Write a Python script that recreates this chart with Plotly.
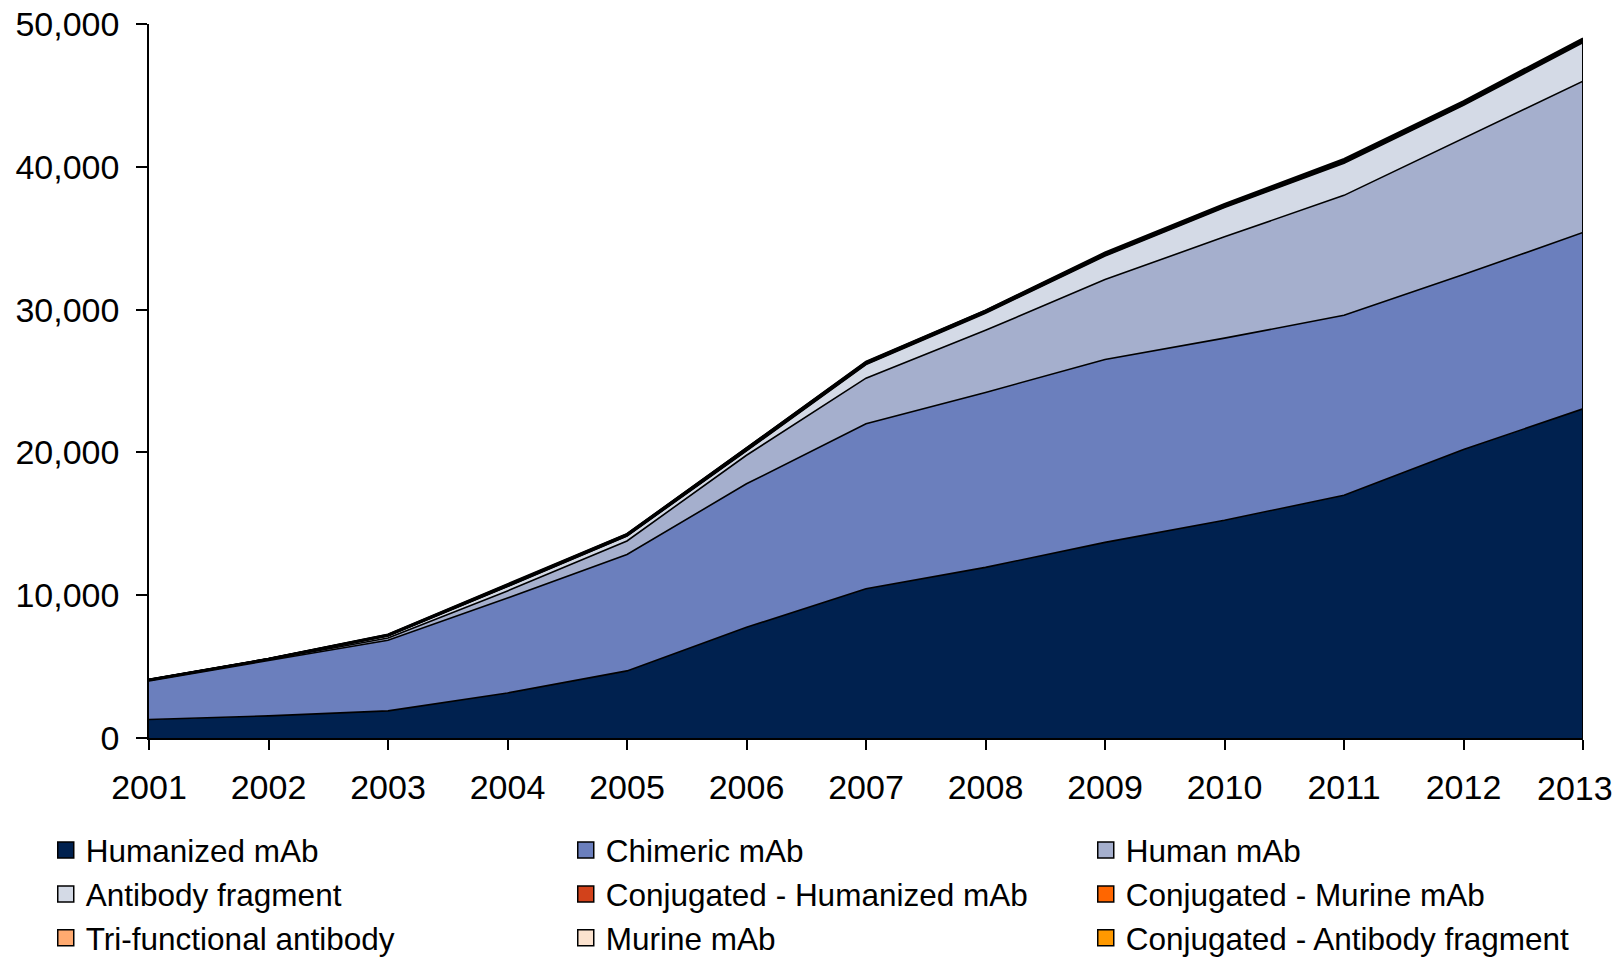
import plotly.graph_objects as go

years = list(range(2001, 2014))

humanized = [1300, 1550, 1900, 3150, 4700, 7750, 10450, 11950, 13700, 15250, 17000, 20200, 23050]
chimeric = [2700, 3900, 4950, 6650, 8150, 10050, 11550, 12250, 12800, 12750, 12600, 12250, 12350]
human = [30, 30, 150, 500, 950, 2000, 3200, 4350, 5600, 7100, 8400, 9550, 10600]
fragment = [20, 20, 150, 300, 350, 300, 950, 1200, 1650, 2050, 2250, 2300, 2700]
conj_humanized = [10, 10, 20, 30, 30, 50, 50, 50, 60, 60, 80, 80, 80]
conj_murine = [20, 20, 30, 40, 40, 40, 40, 40, 40, 40, 40, 40, 40]
trifunctional = [0, 0, 0, 0, 0, 0, 0, 10, 10, 10, 10, 10, 10]
murine = [20, 20, 40, 60, 60, 80, 80, 70, 80, 80, 90, 90, 90]
conj_fragment = [0, 0, 10, 20, 20, 30, 30, 30, 60, 60, 80, 80, 80]

series = [
    ("Humanized mAb", humanized, "#00214F"),
    ("Chimeric mAb", chimeric, "#6B7FBD"),
    ("Human mAb", human, "#A5AFCD"),
    ("Antibody fragment", fragment, "#D4DAE6"),
    ("Conjugated - Humanized mAb", conj_humanized, "#D2421B"),
    ("Conjugated - Murine mAb", conj_murine, "#FF6600"),
    ("Tri-functional antibody", trifunctional, "#FFAA70"),
    ("Murine mAb", murine, "#FCE3CF"),
    ("Conjugated - Antibody fragment", conj_fragment, "#FF9900"),
]

y_ticks = [0, 10000, 20000, 30000, 40000, 50000]
# the last year is labelled separately, right-aligned so it stays on the page
x_ticktext = [str(y) for y in years[:-1]] + [""]

fig = go.Figure()

for i, (name, vals, color) in enumerate(series):
    fig.add_trace(go.Scatter(
        x=years, y=vals, name=name, stackgroup="one", mode="lines",
        line=dict(color="black", width=1.6 if i < 4 else 2.0), fillcolor=color,
        showlegend=False, hoverinfo="x+y+name",
    ))

# square swatches for the legend
for name, vals, color in series:
    fig.add_trace(go.Scatter(
        x=[None], y=[None], name=name, mode="markers",
        marker=dict(symbol="square", size=16, color=color,
                    line=dict(color="black", width=1.5)),
    ))

# closing edge of the stacked area at the last year
totals = [sum(s[1][i] for s in series) for i in range(len(years))]
fig.add_shape(type="line", x0=years[-1], x1=years[-1], y0=0, y1=totals[-1],
              xref="x", yref="y", line=dict(color="black", width=2))

font_family = "Liberation Sans, Arial, sans-serif"

fig.add_annotation(
    x=years[-1], xref="x", y=-0.070, yref="paper",
    text=str(years[-1]), showarrow=False, xanchor="right", yanchor="middle",
    xshift=32, font=dict(size=34, family=font_family, color="black"),
)

fig.update_layout(
    width=1616, height=959,
    margin=dict(l=149, r=33, t=24, b=221, autoexpand=False),
    paper_bgcolor="white", plot_bgcolor="white",
    font=dict(family=font_family, color="black"),
    showlegend=True,
    legend=dict(
        orientation="h", x=-0.072, xanchor="left", y=-0.119, yanchor="top",
        entrywidth=475, entrywidthmode="pixels", tracegroupgap=0,
        traceorder="normal",
        font=dict(size=31.5, family=font_family, color="black"),
        itemsizing="trace", bgcolor="rgba(0,0,0,0)",
    ),
    xaxis=dict(
        range=[years[0], years[-1]], tickmode="array", tickvals=years,
        ticktext=x_ticktext,
        showgrid=False, zeroline=False, showline=True, linecolor="black", linewidth=2,
        ticks="outside", ticklen=10, tickwidth=1.5, tickcolor="black",
        tickfont=dict(size=34), ticklabelstandoff=8,
    ),
    yaxis=dict(
        range=[0, 50000], tickmode="array", tickvals=y_ticks,
        ticktext=[f"{v:,}" for v in y_ticks],
        showgrid=False, zeroline=False, showline=True, linecolor="black", linewidth=1.5,
        ticks="outside", ticklen=11, tickwidth=1.5, tickcolor="black",
        tickfont=dict(size=34), ticklabelstandoff=10,
    ),
)

fig.write_html("out.html")
